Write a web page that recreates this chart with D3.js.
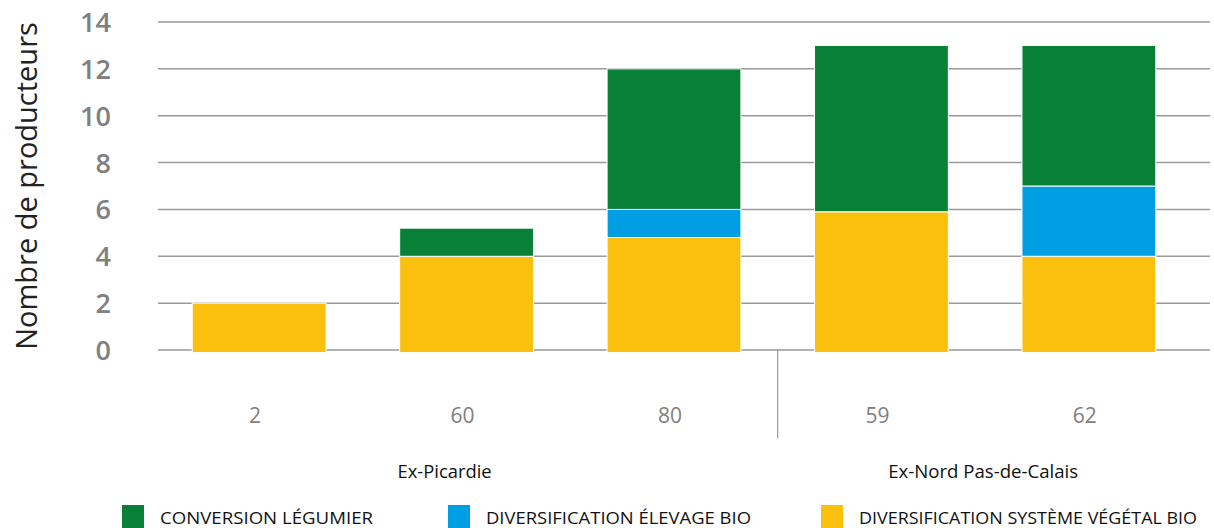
<!DOCTYPE html>
<html>
<head>
<meta charset="utf-8">
<script src="https://cdn.jsdelivr.net/npm/d3@7"></script>
<style>
  body { margin: 0; background: #fff; }
  text { font-family: "Open Sans", sans-serif; }
</style>
</head>
<body>
<div id="chart"></div>
<script>
  'use strict';

  var departements = ["2", "60", "80", "59", "62"];
  var regions = ["Ex-Picardie", "Ex-Picardie", "Ex-Picardie", "Ex-Nord Pas-de-Calais", "Ex-Nord Pas-de-Calais"];
  var vegetalBio = [2, 4, 4.8, 5.9, 4];
  var elevageBio = [0, 0, 1.2, 0, 3];
  var conversionLegumier = [0, 1.2, 6, 7.1, 6];
  var seriesNames = ["CONVERSION LÉGUMIER", "DIVERSIFICATION ÉLEVAGE BIO", "DIVERSIFICATION SYSTÈME VÉGÉTAL BIO"];
  var yTicks = [0, 2, 4, 6, 8, 10, 12, 14];

  var colors = {
    vegetal: "#fbbf0d",
    elevage: "#009fe3",
    legumier: "#088038"
  };

  var w = 1214;
  var h = 528;
  var plotLeft = 158;
  var plotRight = 1210;
  var plotTop = 22;
  var plotBottom = 350;

  var svg = d3.select("#chart").append("svg")
    .attr("width", w)
    .attr("height", h);

  var y = d3.scaleLinear().domain([0, 14]).range([plotBottom, plotTop]);
  var x = d3.scaleBand().domain(departements).range([158, 1190]).paddingInner(0.355).paddingOuter(0.165);

  // gridlines
  svg.append("g").selectAll("line")
    .data(yTicks)
    .enter()
    .append("line")
    .attr("x1", plotLeft)
    .attr("x2", plotRight)
    .attr("y1", function (d) { return y(d); })
    .attr("y2", function (d) { return y(d); })
    .attr("stroke", "#9a9a9a")
    .attr("stroke-width", 1.5);

  // y tick labels
  svg.append("g").selectAll("text")
    .data(yTicks)
    .enter()
    .append("text")
    .attr("x", 111)
    .attr("y", function (d) { return y(d) + 10; })
    .attr("text-anchor", "end")
    .attr("font-size", 27)
    .attr("font-weight", 600)
    .attr("fill", "#808080")
    .text(function (d) { return d; });

  svg.append("text")
    .attr("transform", "translate(37,186) rotate(-90)")
    .attr("text-anchor", "middle")
    .attr("font-size", 29)
    .attr("fill", "#222")
    .text("Nombre de producteurs");

  // stacked bars
  var rows = departements.map(function (d, i) {
    return { dep: d, vegetal: vegetalBio[i], elevage: elevageBio[i], legumier: conversionLegumier[i] };
  });
  var keys = ["vegetal", "elevage", "legumier"];
  var stacked = d3.stack().keys(keys)(rows);

  var layer = svg.append("g").selectAll("g.layer")
    .data(stacked)
    .enter()
    .append("g")
    .attr("class", "layer")
    .attr("fill", function (d) { return colors[d.key]; });

  layer.selectAll("rect")
    .data(function (d) { return d.filter(function (s) { return s[1] > s[0]; }); })
    .enter()
    .append("rect")
    .attr("x", function (d) { return x(d.data.dep); })
    .attr("width", x.bandwidth())
    .attr("y", function (d) { return y(d[1]); })
    .attr("height", function (d) {
      var hh = y(d[0]) - y(d[1]);
      return d[0] === 0 ? hh + 2.5 : hh;
    })
    .attr("stroke", "#fff")
    .attr("stroke-width", 1);

  // x labels
  svg.append("g").selectAll("text")
    .data(departements)
    .enter()
    .append("text")
    .attr("x", function (d) { return x(d) + x.bandwidth() / 2 - 4; })
    .attr("y", 423)
    .attr("text-anchor", "middle")
    .attr("font-size", 21)
    .attr("fill", "#808080")
    .text(function (d) { return d; });

  // region groups
  var groups = d3.groups(departements.map(function (d, i) { return { dep: d, region: regions[i] }; }),
    function (d) { return d.region; });
  var groupShift = [-22, -2];
  var groupWidth = [94, 190];

  svg.append("g").selectAll("text")
    .data(groups)
    .enter()
    .append("text")
    .attr("x", function (g, i) {
      var first = g[1][0].dep, last = g[1][g[1].length - 1].dep;
      return (x(first) + x(last) + x.bandwidth()) / 2 + groupShift[i];
    })
    .attr("y", 478)
    .attr("text-anchor", "middle")
    .attr("font-size", 18)
    .attr("fill", "#111")
    .attr("textLength", function (g, i) { return groupWidth[i]; })
    .attr("lengthAdjust", "spacingAndGlyphs")
    .text(function (g) { return g[0]; });

  // separator between regions
  var sepX = (x("80") + x.bandwidth() + x("59")) / 2;
  svg.append("line")
    .attr("x1", sepX)
    .attr("x2", sepX)
    .attr("y1", plotBottom)
    .attr("y2", 438)
    .attr("stroke", "#808080")
    .attr("stroke-width", 1);

  // legend
  var legendColors = [colors.legumier, colors.elevage, colors.vegetal];
  var legendX = [122, 448, 821];
  var legend = svg.append("g").selectAll("g")
    .data(seriesNames)
    .enter()
    .append("g")
    .attr("transform", function (d, i) { return "translate(" + legendX[i] + ",505)"; });

  legend.append("rect")
    .attr("width", 22)
    .attr("height", 23)
    .attr("fill", function (d, i) { return legendColors[i]; });

  legend.append("text")
    .attr("x", 38)
    .attr("y", 19)
    .attr("font-size", 16)
    .attr("fill", "#111")
    .attr("textLength", function (d, i) { return [213, 265, 338][i]; })
    .attr("lengthAdjust", "spacingAndGlyphs")
    .text(function (d) { return d; });
</script>
</body>
</html>
